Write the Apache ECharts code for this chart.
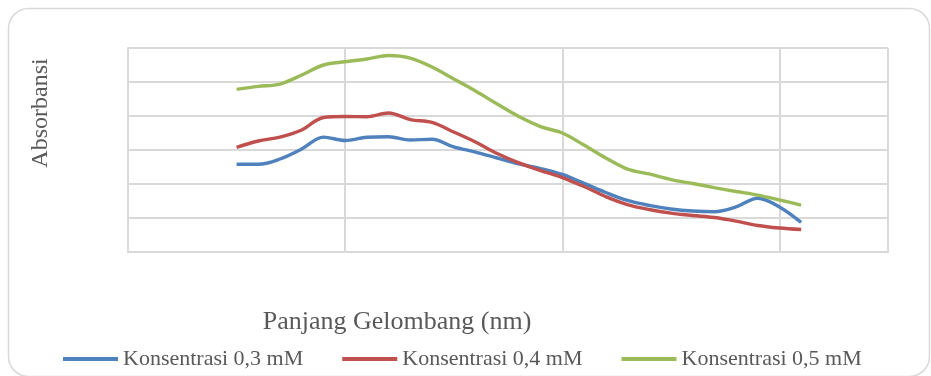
<!DOCTYPE html>
<html>
<head>
<meta charset="utf-8">
<script src="https://cdn.jsdelivr.net/npm/echarts@6/dist/echarts.min.js"></script>
<style>
  html, body { margin: 0; padding: 0; background: #ffffff; }
  #chart { width: 931px; height: 376px; }
</style>
</head>
<body>
<div id="chart"></div>
<script>
// Wavelength samples (nm)
const wavelengths = [250, 260, 270, 280, 290, 300, 310, 320, 330, 340, 350, 360, 370, 380,
                     390, 400, 410, 420, 430, 440, 450, 460, 470, 480, 490, 500, 510];

// Absorbance per concentration
const abs03 = [0.516, 0.516, 0.547, 0.606, 0.676, 0.656, 0.675, 0.678, 0.659, 0.663, 0.618, 0.588, 0.553, 0.518,
               0.491, 0.456, 0.404, 0.350, 0.303, 0.274, 0.253, 0.241, 0.237, 0.265, 0.316, 0.265, 0.174];
const abs04 = [0.616, 0.653, 0.676, 0.718, 0.791, 0.797, 0.796, 0.818, 0.779, 0.762, 0.706, 0.647, 0.579, 0.524,
               0.479, 0.438, 0.385, 0.326, 0.279, 0.250, 0.229, 0.215, 0.203, 0.182, 0.156, 0.141, 0.132];
const abs05 = [0.957, 0.974, 0.988, 1.041, 1.100, 1.119, 1.135, 1.156, 1.141, 1.088, 1.018, 0.947, 0.871, 0.797,
               0.738, 0.700, 0.629, 0.553, 0.488, 0.459, 0.426, 0.403, 0.379, 0.356, 0.335, 0.306, 0.276];

const seriesNames = ['Konsentrasi 0,3 mM', 'Konsentrasi 0,4 mM', 'Konsentrasi 0,5 mM'];
const seriesColors = ['#4f81bd', '#c0504d', '#9bbb59'];
const seriesValues = [abs03, abs04, abs05];

const xTitle = 'Panjang Gelombang (nm)';
const yTitle = 'Absorbansi';

const serif = "'Liberation Serif', 'Times New Roman', serif";
const gridColor = '#d9d9d9';

const chart = echarts.init(document.getElementById('chart'), null, { renderer: 'canvas' });

chart.setOption({
  animation: false,
  backgroundColor: '#ffffff',
  grid: { left: 128, top: 48, right: 43, bottom: 124, containLabel: false },
  xAxis: {
    type: 'value',
    min: 200,
    max: 550,
    interval: 100,
    axisLine: { show: true, lineStyle: { color: gridColor, width: 2 } },
    axisTick: { show: false },
    axisLabel: { show: false },
    splitLine: { show: true, lineStyle: { color: gridColor, width: 2 } }
  },
  yAxis: {
    type: 'value',
    min: 0,
    max: 1.2,
    interval: 0.2,
    axisLine: { show: true, lineStyle: { color: gridColor, width: 2 } },
    axisTick: { show: false },
    axisLabel: { show: false },
    splitLine: { show: true, lineStyle: { color: gridColor, width: 2 } }
  },
  legend: {
    left: 63,
    top: 348,
    padding: 0,
    itemWidth: 55,
    itemHeight: 4,
    itemGap: 39,
    icon: 'rect',
    textStyle: { fontFamily: serif, fontSize: 22, color: '#595959' },
    data: seriesNames
  },
  graphic: [
    {
      type: 'rect',
      shape: { x: 8.5, y: 8.5, width: 921, height: 368, r: 20 },
      style: { fill: 'none', stroke: gridColor, lineWidth: 1.5 },
      silent: true,
      z: -1
    },
    {
      type: 'text',
      x: 397,
      y: 322,
      style: {
        text: xTitle, fontFamily: serif, fontSize: 26, fill: '#595959',
        align: 'center', verticalAlign: 'middle'
      }
    },
    {
      type: 'text',
      x: 41,
      y: 113,
      rotation: Math.PI / 2,
      style: {
        text: yTitle, fontFamily: serif, fontSize: 24, fill: '#595959',
        align: 'center', verticalAlign: 'middle'
      }
    }
  ],
  series: seriesNames.map((name, i) => ({
    name: name,
    type: 'line',
    smooth: 0.35,
    showSymbol: false,
    symbol: 'none',
    color: seriesColors[i],
    lineStyle: { width: 3.4, color: seriesColors[i] },
    data: wavelengths.map((w, k) => [w, seriesValues[i][k]])
  }))
});
</script>
</body>
</html>
